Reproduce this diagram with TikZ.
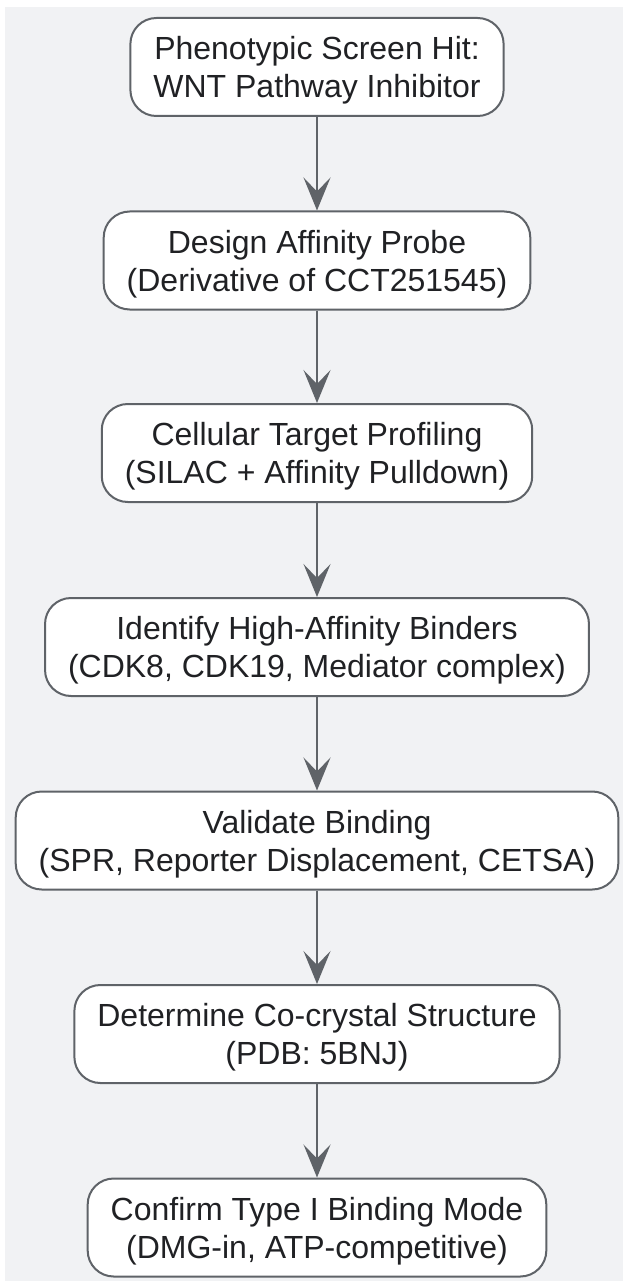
\documentclass[tikz,border=0pt]{standalone}
\usepackage{fontspec}
\setmainfont[Ligatures=NoCommon]{Liberation Sans}
\usetikzlibrary{arrows.meta}
\definecolor{bg}{HTML}{F1F2F4}
\definecolor{edge}{HTML}{5F6368}
\definecolor{ink}{HTML}{202124}
\begin{document}
\begin{tikzpicture}[x=1pt,y=-1pt,
  stepbox/.style={draw=edge, line width=2pt, fill=white, rounded corners=26pt,
    minimum height=98pt, inner xsep=23pt, inner ysep=0pt, align=center,
    text height=61pt, text depth=0pt,
    text=ink, font=\fontsize{32}{38}\selectfont},
  flow/.style={draw=edge, line width=2pt, -{Stealth[length=33pt,width=27pt,inset=14pt]}}]
\useasboundingbox (0,0) rectangle (623,1281);
\fill[bg] (5,7) rectangle (623,1281);
\node[stepbox] (n1) at (317,67) {Phenotypic Screen Hit:\\WNT Pathway Inhibitor};
\node[stepbox] (n2) at (317,260.5) {Design Affinity Probe\\(Derivative of CCT251545)};
\node[stepbox] (n3) at (317,453) {Cellular Target Profiling\\(SILAC + Affinity Pulldown)};
\node[stepbox] (n4) at (317,647) {Identify High-Affinity Binders\\(CDK8, CDK19, Mediator complex)};
\node[stepbox] (n5) at (317,840.5) {Validate Binding\\(SPR, Reporter Displacement, CETSA)};
\node[stepbox] (n6) at (317,1034) {Determine Co-crystal Structure\\(PDB: 5BNJ)};
\node[stepbox] (n7) at (317,1227.5) {Confirm Type I Binding Mode\\(DMG-in, ATP-competitive)};
\draw[flow] (n1) -- (n2);
\draw[flow] (n2) -- (n3);
\draw[flow] (n3) -- (n4);
\draw[flow] (n4) -- (n5);
\draw[flow] (n5) -- (n6);
\draw[flow] (n6) -- (n7);
\end{tikzpicture}
\end{document}
